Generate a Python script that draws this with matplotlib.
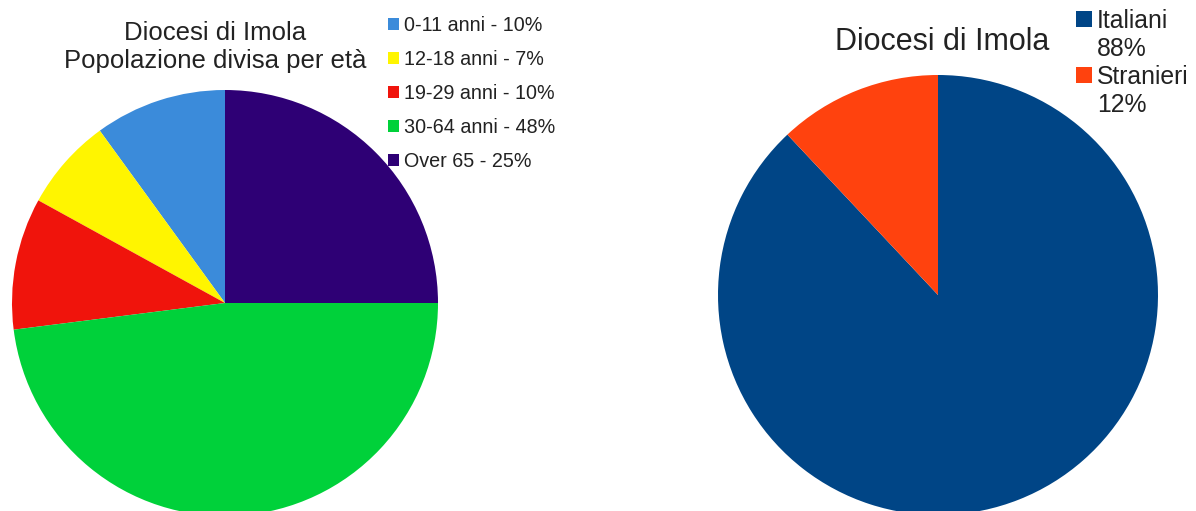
import matplotlib
matplotlib.use("Agg")
import matplotlib.pyplot as plt
from matplotlib.patches import Rectangle

plt.rcParams['font.family'] = ['Liberation Sans', 'DejaVu Sans']

# Data
age_labels = ["0-11 anni - 10%", "12-18 anni - 7%", "19-29 anni - 10%",
              "30-64 anni - 48%", "Over 65 - 25%"]
age_values = [10, 7, 10, 48, 25]
age_colors = ["#3B8BDA", "#FFF500", "#F0140C", "#00D13A", "#2E0075"]

origin_labels = ["Italiani\n88%", "Stranieri\n12%"]
origin_values = [88, 12]
origin_colors = ["#004586", "#FF420E"]

W, H = 1196, 511
fig = plt.figure(figsize=(W / 100, H / 100), dpi=100)
fig.patch.set_facecolor("white")

def px_axes(cx, cy, r):
    # cx, cy in pixels from top-left
    return fig.add_axes([(cx - r) / W, (H - cy - r) / H, 2 * r / W, 2 * r / H])

# Left pie
ax1 = px_axes(225, 303, 213)
w1, _ = ax1.pie(age_values, colors=age_colors, startangle=90, counterclock=True,
                radius=1.0, wedgeprops=dict(linewidth=0))
ax1.set_xlim(-1, 1); ax1.set_ylim(-1, 1); ax1.set_aspect("equal"); ax1.axis("off")
fig.text(215 / W, 1 - 47 / H, "Diocesi di Imola\nPopolazione divisa per età",
         ha="center", va="center", fontsize=18.5, color="#222222", linespacing=1.18)
fig.legend(w1, age_labels, loc="upper left", bbox_to_anchor=(388 / W, 1 - 16 / H),
           frameon=False, fontsize=14.2, handlelength=0.55, handleheight=0.55,
           handletextpad=0.25, labelspacing=0.76, borderpad=0, borderaxespad=0,
           labelcolor="#222222")

# Right pie
ax2 = px_axes(938, 295, 220)
w2, _ = ax2.pie(origin_values, colors=origin_colors, startangle=90, counterclock=False,
                radius=1.0, wedgeprops=dict(linewidth=0))
ax2.set_xlim(-1, 1); ax2.set_ylim(-1, 1); ax2.set_aspect("equal"); ax2.axis("off")
fig.text(942 / W, 1 - 42 / H, "Diocesi di Imola", ha="center", va="center",
         fontsize=22, color="#222222")

# Right legend (square aligned with first line of each entry)
for i, (lab, col) in enumerate(zip(origin_labels, origin_colors)):
    top = 11 + i * 56
    fig.add_artist(Rectangle((1076 / W, 1 - (top + 16) / H), 16 / W, 16 / H,
                             transform=fig.transFigure, facecolor=col, edgecolor="none"))
    fig.text(1097 / W, 1 - (top - 2.5) / H, lab, ha="left", va="top",
             fontsize=17.8, color="#222222", linespacing=1.22)

fig.savefig("out.png", dpi=100, facecolor="white")
